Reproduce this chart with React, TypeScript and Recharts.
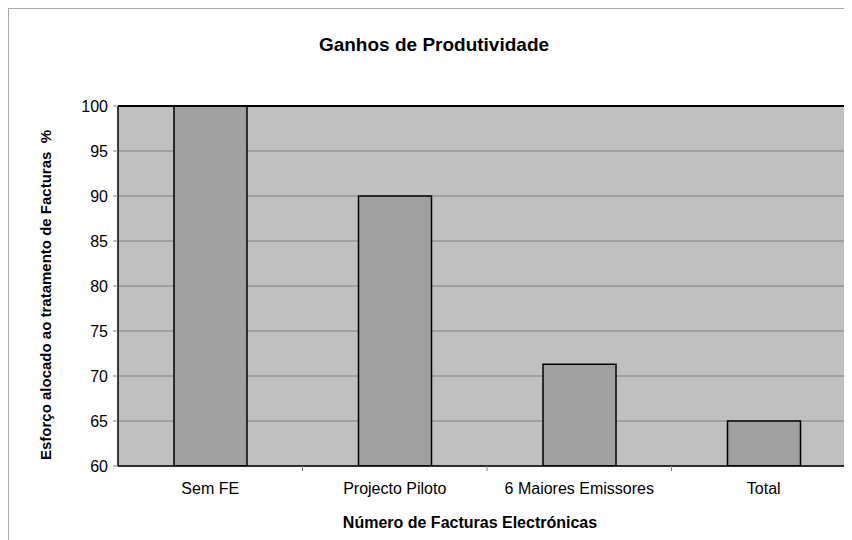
import React from "react";
import {
  Bar,
  BarChart,
  CartesianGrid,
  ReferenceLine,
  XAxis,
  YAxis,
} from "recharts";

const categories = ["Sem FE", "Projecto Piloto", "6 Maiores Emissores", "Total"];
const effort = [100, 90, 71.3, 65];
const yTicks = [60, 65, 70, 75, 80, 85, 90, 95, 100];

const data = categories.map((name, i) => ({ name, value: effort[i] }));

const FONT = "Arial, 'Liberation Sans', sans-serif";

function CategoryTick(props: any) {
  const { x, y, payload } = props;
  const off = payload?.offset ?? 0;
  return (
    <g>
      <line x1={x + off} x2={x + off} y1={y - 8} y2={y - 3} stroke="#808080" />
      <text
        x={x}
        y={y + 20}
        textAnchor="middle"
        fontFamily={FONT}
        fontSize={16}
        fill="#000"
      >
        {payload.value}
      </text>
    </g>
  );
}

export default function App() {
  return (
    <div
      style={{
        width: 860,
        height: 540,
        borderLeft: "1px solid #aaaaaa",
        borderTop: "1px solid #aaaaaa",
        background: "#fff",
        position: "relative",
      }}
    >
      <BarChart
        width={860}
        height={540}
        data={data}
        margin={{ top: 97, right: 13, left: 49, bottom: 43 }}
        barSize={73}
      >
        <CartesianGrid
          vertical={false}
          stroke="#808080"
          fill="#c0c0c0"
          fillOpacity={1}
        />
        <XAxis
          dataKey="name"
          height={40}
          axisLine={{ stroke: "#000", strokeWidth: 1.5 }}
          tickLine={false}
          tick={<CategoryTick />}
          interval={0}
        />
        <YAxis
          width={60}
          domain={[60, 100]}
          ticks={yTicks}
          interval={0}
          allowDataOverflow
          axisLine={{ stroke: "#000", strokeWidth: 1.5 }}
          tickLine={{ stroke: "#808080" }}
          tickSize={5}
          tickMargin={5}
          tick={{ fontFamily: FONT, fontSize: 16, fill: "#000" }}
        />
        <ReferenceLine y={100} stroke="#000" strokeWidth={2} />
        <Bar
          dataKey="value"
          fill="#a0a0a0"
          stroke="#000"
          strokeWidth={1.5}
          isAnimationActive={false}
        />
        <text
          x={425}
          y={42}
          textAnchor="middle"
          fontFamily={FONT}
          fontSize={19}
          fontWeight="bold"
          fill="#000"
        >
          Ganhos de Produtividade
        </text>
        <text
          x={461}
          y={519}
          textAnchor="middle"
          fontFamily={FONT}
          fontSize={16}
          fontWeight="bold"
          fill="#000"
        >
          Número de Facturas Electrónicas
        </text>
        <text
          x={42}
          y={286}
          textAnchor="middle"
          fontFamily={FONT}
          fontSize={15}
          fontWeight="bold"
          fill="#000"
          transform="rotate(-90 42 286)"
        >
          {"Esforço alocado ao tratamento de Facturas\u00a0\u00a0%"}
        </text>
      </BarChart>
    </div>
  );
}
